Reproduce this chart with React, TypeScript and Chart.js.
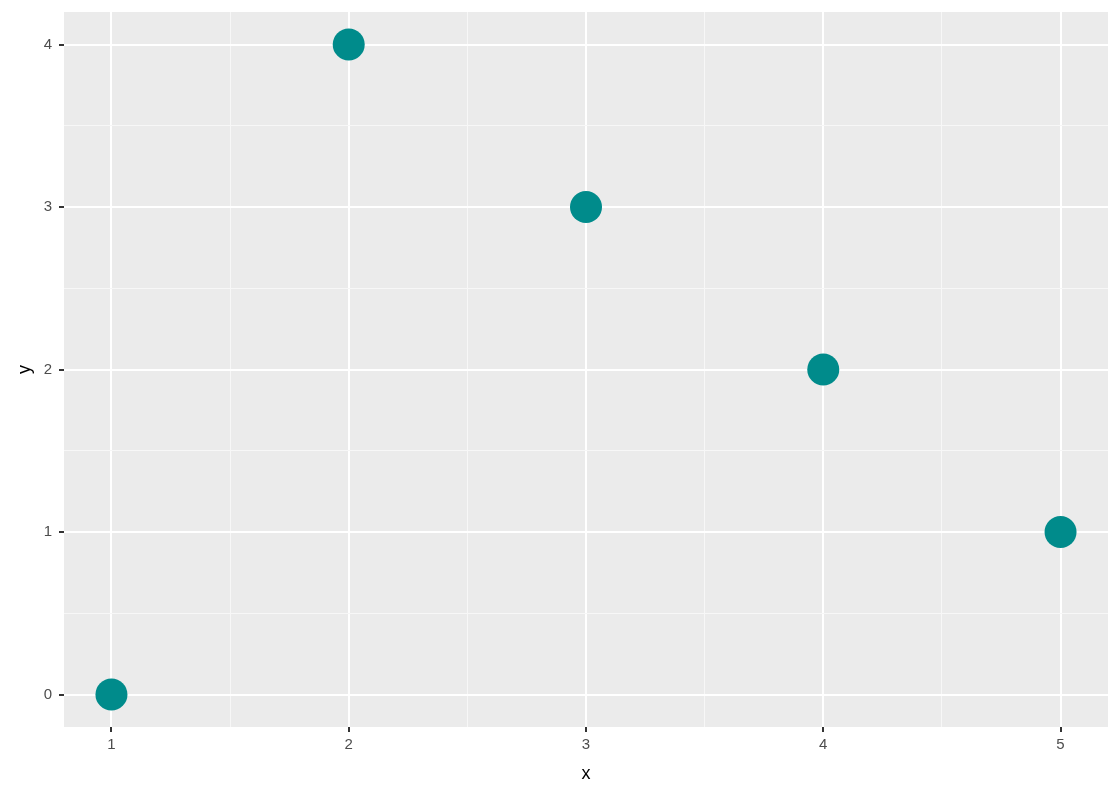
import React, { useEffect, useRef } from "react";
import { Chart, registerables } from "chart.js";

Chart.register(...registerables);

const xValues = [1, 2, 3, 4, 5];
const yValues = [0, 4, 3, 2, 1];
const xTicks = [1, 1.5, 2, 2.5, 3, 3.5, 4, 4.5, 5];
const yTicks = [0, 0.5, 1, 1.5, 2, 2.5, 3, 3.5, 4];
const xTitle = "x";
const yTitle = "y";

const panelBg = {
  id: "panelBg",
  beforeDraw(chart: any) {
    const { ctx, chartArea } = chart;
    ctx.save();
    ctx.fillStyle = "#EBEBEB";
    ctx.fillRect(chartArea.left, chartArea.top, chartArea.right - chartArea.left, chartArea.bottom - chartArea.top);
    ctx.restore();
  },
};

const isMajor = (v: number) => Math.abs(v - Math.round(v)) < 1e-9;
const FONT = "'Liberation Sans', Arial, sans-serif";

export default function App() {
  const ref = useRef<HTMLCanvasElement | null>(null);
  useEffect(() => {
    document.body.style.margin = "0";
    const canvas = ref.current!;
    const gridCommon = {
      color: (c: any) => (isMajor(c.tick?.value) ? "#FFFFFF" : "#F7F7F7"),
      lineWidth: (c: any) => (isMajor(c.tick?.value) ? 2 : 1),
      tickColor: (c: any) => (isMajor(c.tick?.value) ? "#333333" : "rgba(0,0,0,0)"),
      tickWidth: 2,
      tickLength: 5,
      drawOnChartArea: true,
      z: 0,
    };
    const chart = new Chart(canvas, {
      type: "scatter",
      data: {
        datasets: [
          {
            data: xValues.map((x, i) => ({ x, y: yValues[i] })),
            backgroundColor: "#008B8B",
            borderWidth: 0,
            pointRadius: 16,
            pointHoverRadius: 16,
          },
        ],
      },
      plugins: [panelBg],
      options: {
        animation: false,
        responsive: false,
        events: [],
        layout: { autoPadding: false, padding: { left: 0, top: 12, right: 12, bottom: 0 } },
        plugins: { legend: { display: false }, tooltip: { enabled: false } },
        scales: {
          x: {
            type: "linear",
            min: 0.8,
            max: 5.2,
            afterBuildTicks: (axis: any) => {
              axis.ticks = xTicks.map((v) => ({ value: v }));
            },
            afterFit: (axis: any) => {
              axis.height = 73;
              axis.paddingLeft = 0;
              axis.paddingRight = 0;
            },
            border: { display: false },
            grid: gridCommon,
            ticks: {
              autoSkip: false,
              maxRotation: 0,
              padding: 4,
              color: "#4D4D4D",
              font: { family: FONT, size: 15 },
              callback: (v: any) => (isMajor(Number(v)) ? String(v) : ""),
            },
            title: {
              display: true,
              text: xTitle,
              color: "#000000",
              font: { family: FONT, size: 18 },
              padding: { top: 0, bottom: 15 },
            },
          },
          y: {
            type: "linear",
            min: -0.2,
            max: 4.2,
            afterBuildTicks: (axis: any) => {
              axis.ticks = yTicks.map((v) => ({ value: v }));
            },
            afterFit: (axis: any) => {
              axis.width = 64;
              axis.paddingTop = 0;
              axis.paddingBottom = 0;
            },
            border: { display: false },
            grid: gridCommon,
            ticks: {
              autoSkip: false,
              padding: 7,
              color: "#4D4D4D",
              font: { family: FONT, size: 15 },
              callback: (v: any) => (isMajor(Number(v)) ? String(v) : ""),
            },
            title: {
              display: true,
              text: yTitle,
              color: "#000000",
              font: { family: FONT, size: 18 },
              padding: { top: 14, bottom: 0 },
            },
          },
        },
      },
    } as any);
    return () => chart.destroy();
  }, []);
  return (
    <div style={{ width: 1120, height: 800 }}>
      <canvas ref={ref} width={1120} height={800} style={{ display: "block" }} />
    </div>
  );
}
